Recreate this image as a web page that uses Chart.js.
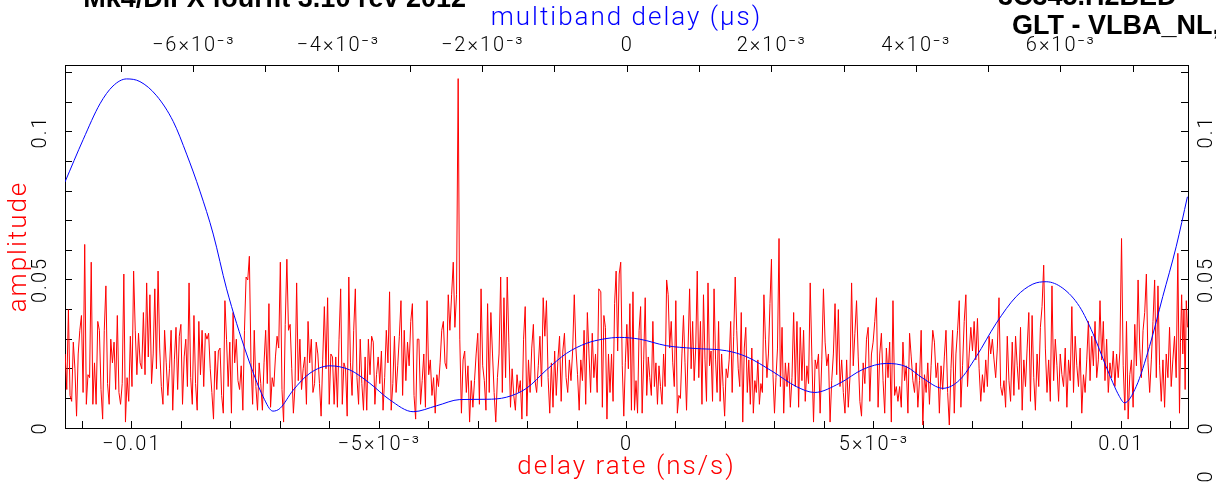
<!DOCTYPE html>
<html>
<head>
<meta charset="utf-8">
<script src="https://cdn.jsdelivr.net/npm/chart.js@4.4.1/dist/chart.umd.min.js"></script>
<style>
  html, body { margin: 0; padding: 0; background: #fff; }
</style>
</head>
<body>
<canvas id="fringeChart" width="1216" height="483"></canvas>
<script>
const red = '#ff0000';
const blue = '#0000ff';
const ink = '#000000';
const thinFont = 'Roboto';

const headerLeft = 'Mk4/DiFX fourfit 3.10 rev 2012';
const headerRight = ['3C345.H2BED', 'GLT - VLBA_NL,'];

// delay rate axis (ns/s), bottom
const rateRange = [-0.01135, 0.01135];
const rateMajor = [-0.01, -0.005, 0, 0.005, 0.01];
const rateMajorText = ['\u22120.01', '\u22125\u00d710\u207b\u00b3', '0', '5\u00d710\u207b\u00b3', '0.01'];

// multiband delay axis (us), top
const delayRange = [-0.00778, 0.00776];
const delayMajor = [-0.006, -0.004, -0.002, 0, 0.002, 0.004, 0.006];
const delayMajorText = ['\u22126\u00d710\u207b\u00b3', '\u22124\u00d710\u207b\u00b3', '\u22122\u00d710\u207b\u00b3', '0',
  '2\u00d710\u207b\u00b3', '4\u00d710\u207b\u00b3', '6\u00d710\u207b\u00b3'];

// amplitude axis
const ampRange = [0, 0.1226];
const ampMajor = [0, 0.05, 0.1];
const ampMajorText = ['0', '0.05', '0.1'];

// multiband delay curve (blue)
const delayUs = [-0.007780, -0.007527, -0.007296, -0.007116, -0.006927, -0.006743, -0.006512, -0.006282, -0.006097,
  -0.005913, -0.005729, -0.005544, -0.005267, -0.005037, -0.004903, -0.004806, -0.004622, -0.004391, -0.004115, -0.003838,
  -0.003562, -0.003285, -0.002963, -0.002639, -0.002317, -0.001947, -0.001671, -0.001394, -0.001118, -0.000841,
  -0.000564, -0.000339, -0.000104, 0.000173, 0.000542, 0.000910, 0.001372, 0.001649, 0.002017, 0.002340, 0.002593,
  0.002939, 0.003261, 0.003585, 0.003862, 0.004091, 0.004368, 0.004599, 0.004830, 0.005107, 0.005383, 0.005613,
  0.005798, 0.006028, 0.006259, 0.006443, 0.006628, 0.006812, 0.006881, 0.007043, 0.007227, 0.007411, 0.007596,
  0.007752];
const delayAmp = [0.0831, 0.0975, 0.1095, 0.1155, 0.1179, 0.1170, 0.1122, 0.1035, 0.0925,
  0.0800, 0.0655, 0.0470, 0.0250, 0.0105, 0.0057, 0.0066, 0.0128, 0.0185, 0.0210, 0.0196,
  0.0151, 0.0095, 0.0055, 0.0075, 0.0096, 0.0097, 0.0104, 0.0134, 0.0196, 0.0252,
  0.0286, 0.0300, 0.0306, 0.0300, 0.0278, 0.0269, 0.0261, 0.0241, 0.0190, 0.0140, 0.0120,
  0.0151, 0.0198, 0.0218, 0.0207, 0.0168, 0.0134, 0.0162, 0.0241, 0.0354, 0.0444, 0.0486,
  0.0494, 0.0472, 0.0410, 0.0320, 0.0207, 0.0106, 0.0085, 0.0140, 0.0275, 0.0444, 0.0612,
  0.0781];

// delay rate spectrum (red), read in stretches; each stretch spans rateSpans[i]
const rateSpans = [
  [-0.011347, -0.003570],
  [-0.003535, -0.000560],
  [-0.000519, 0.001461],
  [0.001495, 0.003083],
  [0.003111, 0.005487],
  [0.005521, 0.011178],
  [0.011198, 0.011339],
];
const rateAmpA = [
  0.025,0.013,0.040,0.011,0.009,0.029,0.020,0.004,0.025,0.033,0.038,0.012,0.062,0.008,0.018,0.017,0.056,0.008,0.022,0.008,
  0.036,0.033,0.013,0.003,0.033,0.048,0.015,0.008,0.030,0.022,0.029,0.013,0.038,0.012,0.008,0.015,0.052,0.002,0.017,0.009,
  0.031,0.014,0.053,0.033,0.018,0.032,0.022,0.020,0.039,0.018,0.049,0.024,0.045,0.015,0.025,0.047,0.020,0.053,0.027,0.014,
  0.008,
  0.033,0.022,0.011,0.020,0.033,0.006,0.023,0.034,0.013,0.031,0.035,0.008,0.024,0.030,0.014,0.049,0.017,0.008,0.038,0.015,
  0.006,0.036,0.018,0.033,0.014,0.032,0.030,0.032,0.020,0.012,0.003,0.026,0.013,0.026,0.027,0.011,0.005,0.043,0.030,0.014,
  0.029,0.005,0.039,0.022,0.030,0.016,0.013,0.021,0.006,0.033,0.051,0.050,0.058,0.022,0.008,0.033,0.014,0.006,
  0.022,0.015,0.006,0.022,0.033,0.015,0.042,0.007,0.017,0.014,0.024,0.031,0.027,0.056,0.013,0.002,0.035,0.057,0.033,0.035,
  0.020,0.005,0.014,0.049,0.016,0.030,0.013,0.020,0.024,0.008,0.036,0.022,0.030,0.012,0.015,0.029,0.025,0.015,0.004,0.023,
  0.041,0.020,0.044,0.008,0.025,0.024,0.008,0.024,0.007,0.030,0.047,0.008,0.022,0.020,0.004,0.051,0.022,0.011,0.033,0.047,
  0.017,0.008,0.030,
  0.015,0.006,0.024,0.006,0.030,0.018,0.031,0.029,0.008,0.018,0.024,0.015,0.026,0.006,0.017,0.033,0.022,0.046,0.006,0.015,
  0.031,0.012,0.021,0.031,0.043,0.011,0.033,0.016,0.029,0.021,0.036,0.042,0.011,0.003,0.030,0.030,0.008,0.016,0.025,0.007,
  0.043,0.018,0.023,0.011,0.017,0.005,0.018,0.014,0.022,0.033,0.036,0.022,0.020,0.045,0.033,
];
const rateAmpB = [
  0.045,0.056,0.034,0.045,0.118,0.030,0.005,0.023,0.026,0.012,0.021,0.002,0.016,0.007,0.016,0.025,0.032,0.008,0.047,0.021,
  0.016,0.006,0.042,0.012,0.039,0.025,0.012,0.002,0.017,0.025,0.051,0.012,0.044,0.017,0.051,0.029,0.007,0.020,0.011,0.006,
  0.018,0.012,0.016,0.003,0.030,0.041,0.004,0.023,0.012,0.027,0.035,0.016,0.012,0.021,0.031,0.014,0.044,0.031,0.043,0.017,
  0.005,0.022,0.007,0.026,0.011,0.023,0.031,0.009,0.026,0.032,0.017,0.012,0.023,0.016,0.026,0.045,0.027,0.018,0.006,0.023,
  0.016,0.033,0.008,0.039,0.025,0.012,0.032,0.017,0.025,0.012,0.047,
];
const rateAmpC1 = [
  0.046,0.007,0.038,0.034,0.003,0.025,0.012,0.025,0.009,0.042,0.053,0.026,0.052,0.056,0.021,0.004,0.022,0.035,0.020,0.042,
  0.006,0.046,0.006,0.016,0.005,0.033,0.041,0.005,0.023,0.044,0.011,0.024,0.017,0.011,0.036,0.014,0.022,0.008,0.021,0.014,
  0.008,0.025,0.014,0.050,0.045,0.027,0.036,0.022,0.014,0.043,0.005,0.011,0.010,0.025,0.038,0.022,0.006,0.027,0.047,0.020,
  0.036,0.016,0.027,0.053,0.017,
];
const rateAmpC2 = [
  0.036,0.008,0.045,0.023,0.009,0.049,0.021,0.026,0.009,0.047,0.023,0.012,0.036,0.009,0.025,0.014,0.004,0.020,0.017,0.023,
  0.036,0.012,0.031,0.051,0.033,0.020,0.014,0.039,0.002,0.027,0.034,0.012,0.023,0.008,0.027,0.005,0.016,0.012,0.023,0.008,
  0.015,0.012,0.045,0.030,0.017,0.025,0.042,0.057,0.018,0.005,0.017,0.027,0.064,
];
const rateAmpC3 = [
  0.014,0.034,0.005,0.022,0.014,0.022,0.007,0.017,0.039,0.014,0.036,0.007,0.034,0.016,0.033,0.009,0.021,0.015,0.049,0.024,
  0.002,0.023,0.020,0.025,0.005,0.023,0.047,0.029,0.021,0.025,0.002,0.016,0.025,0.042,0.018,0.040,0.014,0.023,0.012,0.005,
  0.023,0.007,0.017,0.049,0.021,0.032,0.043,0.024,0.009,0.004,0.022,0.015,0.030,0.034,0.009,0.025,0.029,0.036,0.044,0.007,
  0.025,0.032,0.016,0.005,0.027,0.017,0.029,0.002,0.043,0.011,0.014,0.009,
];
const rateAmpD = [
  0.014,0.007,0.029,0.016,0.021,0.005,0.032,0.024,0.016,0.012,0.022,0.007,0.016,0.033,0.001,0.018,0.012,0.022,0.008,0.021,
  0.033,0.029,0.017,0.022,0.005,0.021,0.013,0.024,0.033,0.012,0.001,0.020,0.033,0.005,0.025,0.033,0.043,0.007,0.021,0.036,
  0.045,0.014,0.025,0.034,0.026,0.036,0.023,0.037,0.020,0.009,0.018,0.012,0.023,0.014,0.031,0.025,0.030,0.023,0.017,0.027,
  0.044,0.014,0.011,0.016,0.007,0.031,0.016,0.009,0.029,0.011,0.031,0.021,0.013,0.034,0.006,0.023,0.014,0.027,0.039,0.009,
  0.038,0.017,0.006,0.025,0.014,0.034,0.041,0.055,0.027,0.012,0.023,0.009,0.048,0.016,0.030,0.021,0.009,0.025,0.018,0.014,
  0.027,0.007,0.023,0.016,0.041,0.012,0.031,0.021,0.014,0.027,0.005,0.018,0.012,0.023,0.036,0.016,0.031,0.021,0.036,0.017,
  0.023,0.043,0.023,0.036,0.016,0.030,0.012,0.022,0.017,0.026,0.014,0.025,0.017,0.026,0.064,0.021,0.006,0.036,0.003,0.018,
  0.023,0.007,0.035,0.021,0.050,0.027,0.017,0.033,0.039,0.052,0.022,0.012,0.023,0.036,0.050,0.017,0.048,0.021,0.009,0.023,
  0.007,0.025,0.017,0.034,0.014,0.023,0.031,0.017,0.059,0.005,
];
const rateAmpE = [0.029,0.045,0.025,0.040,0.013,0.043,0.034];

const rateStretches = [rateAmpA, rateAmpB, rateAmpC1, rateAmpC2, rateAmpC3, rateAmpD, rateAmpE];

const ratePoints = [];
rateStretches.forEach((amps, s) => {
    const [from, to] = rateSpans[s];
    const step = (to - from) / (amps.length - 1);
    amps.forEach((a, i) => ratePoints.push({ x: from + i * step, y: a }));
});
const delayPoints = delayUs.map((d, i) => ({ x: d, y: delayAmp[i] }));

function majorLabel(value, majors, texts) {
    const k = majors.findIndex(m => Math.abs(m - value) < 1e-9);
    return k >= 0 ? texts[k] : '';
}

const tickFont = { family: thinFont, size: 20, weight: '300' };
const titleFont = { family: thinFont, size: 26, weight: '300' };
const frame = { display: true, color: ink, width: 1 };
const inwardGrid = { drawOnChartArea: false, drawTicks: true, tickLength: -7, color: ink, tickColor: ink };

// the plotting font of the original is wide; space the thin letters out
const wideLetters = {
    id: 'wideLetters',
    beforeUpdate(chart) { chart.ctx.letterSpacing = '2px'; },
    beforeDraw(chart) { chart.ctx.letterSpacing = '2px'; },
};

const headerText = {
    id: 'headerText',
    afterDraw(chart) {
        const ctx = chart.ctx;
        ctx.save();
        ctx.letterSpacing = '0px';
        ctx.fillStyle = ink;
        ctx.font = 'bold 27px "Liberation Sans", Arial, sans-serif';
        ctx.textBaseline = 'alphabetic';
        ctx.textAlign = 'right';
        ctx.fillText(headerLeft, 466, 7);
        ctx.textAlign = 'left';
        ctx.fillText(headerRight[0], 998, 5);
        ctx.fillText(headerRight[1], 1012, 34);
        ctx.font = '300 20px ' + thinFont;
        ctx.translate(1207, 477);
        ctx.rotate(-Math.PI / 2);
        ctx.textAlign = 'center';
        ctx.textBaseline = 'middle';
        ctx.fillText('0', 0, 0);
        ctx.restore();
    },
};

new Chart(document.getElementById('fringeChart'), {
    type: 'line',
    data: {
        datasets: [
            {
                label: 'multiband delay',
                data: delayPoints,
                xAxisID: 'x2',
                yAxisID: 'y',
                borderColor: blue,
                borderWidth: 1,
                pointRadius: 0,
                cubicInterpolationMode: 'monotone',
                order: 0,
            },
            {
                label: 'delay rate',
                data: ratePoints,
                xAxisID: 'x',
                yAxisID: 'y',
                borderColor: red,
                borderWidth: 1,
                pointRadius: 0,
                tension: 0,
                order: 1,
            },
        ],
    },
    options: {
        responsive: false,
        animation: false,
        devicePixelRatio: 1,
        layout: { padding: 0 },
        plugins: { legend: { display: false }, tooltip: { enabled: false } },
        scales: {
            x: {
                type: 'linear',
                position: 'bottom',
                min: rateRange[0],
                max: rateRange[1],
                border: frame,
                grid: inwardGrid,
                afterFit: s => { s.height = 55; },
                ticks: {
                    stepSize: 0.001,
                    includeBounds: false,
                    autoSkip: false,
                    maxRotation: 0,
                    padding: 12,
                    color: ink,
                    font: tickFont,
                    callback: v => majorLabel(v, rateMajor, rateMajorText),
                },
                title: { display: true, text: 'delay rate (ns/s)', color: red, font: titleFont, padding: { top: 0, bottom: 0 } },
            },
            x2: {
                type: 'linear',
                position: 'top',
                min: delayRange[0],
                max: delayRange[1],
                border: frame,
                grid: inwardGrid,
                afterFit: s => { s.height = 65; },
                ticks: {
                    stepSize: 0.001,
                    includeBounds: false,
                    autoSkip: false,
                    maxRotation: 0,
                    padding: 14,
                    color: ink,
                    font: tickFont,
                    callback: v => majorLabel(v, delayMajor, delayMajorText),
                },
                title: { display: true, text: 'multiband delay (\u03bcs)', color: blue, font: titleFont, padding: { top: 3, bottom: 0 } },
            },
            y: {
                type: 'linear',
                position: 'left',
                min: ampRange[0],
                max: ampRange[1],
                border: frame,
                grid: inwardGrid,
                afterFit: s => { s.width = 65; },
                ticks: {
                    stepSize: 0.01,
                    includeBounds: false,
                    autoSkip: false,
                    minRotation: 90,
                    maxRotation: 90,
                    crossAlign: 'center',
                    padding: 8,
                    color: ink,
                    font: tickFont,
                    callback: v => majorLabel(v, ampMajor, ampMajorText),
                },
                title: { display: true, text: 'amplitude', color: red, font: titleFont, padding: { top: 4, bottom: 0 } },
            },
            y2: {
                type: 'linear',
                position: 'right',
                min: ampRange[0],
                max: ampRange[1],
                border: frame,
                grid: inwardGrid,
                afterFit: s => { s.width = 28; },
                ticks: {
                    stepSize: 0.01,
                    includeBounds: false,
                    autoSkip: false,
                    minRotation: 90,
                    maxRotation: 90,
                    crossAlign: 'center',
                    padding: 3,
                    color: ink,
                    font: tickFont,
                    callback: v => majorLabel(v, ampMajor, ampMajorText),
                },
            },
        },
    },
    plugins: [wideLetters, headerText],
});
</script>
</body>
</html>
